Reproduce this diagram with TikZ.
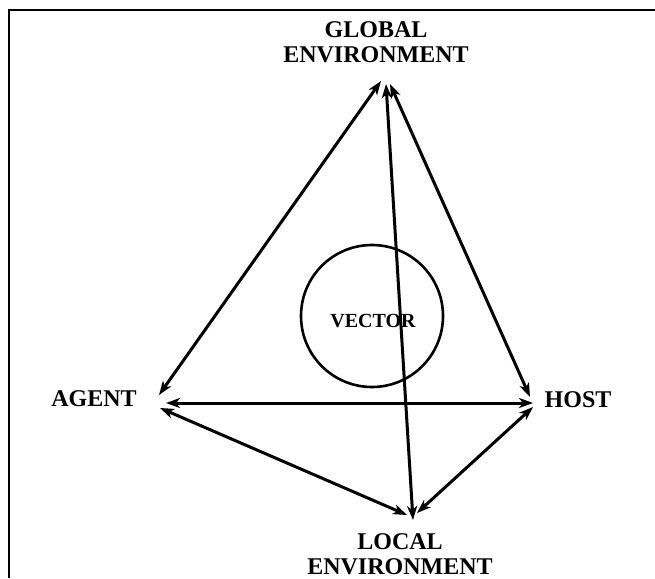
\documentclass[tikz,border=0pt]{standalone}
\usepackage{fontspec}
\setmainfont{Liberation Serif}
\usetikzlibrary{arrows.meta}

\begin{document}
\begin{tikzpicture}[x=1pt,y=-1pt,line width=3pt,
  lbl/.style={font=\fontsize{24}{25}\selectfont\bfseries,align=center,inner sep=0pt},
  link/.style={{Stealth[length=14pt,width=10pt,inset=4pt]}-{Stealth[length=14pt,width=10pt,inset=4pt]}}]
  \useasboundingbox (0,0) rectangle (655,578);
  % frame (top and left only)
  \draw[line width=2pt] (655,10) -- (9,10) -- (9,578);
  % labels
  \node[lbl] (glob) at (376,42) {GLOBAL\\ENVIRONMENT};
  \node[lbl] (loc) at (400,554) {LOCAL\\ENVIRONMENT};
  \node[lbl] (agent) at (94,399) {AGENT};
  \node[lbl] (host) at (578,400) {HOST};
  \node[circle,draw,line width=2.6pt,minimum size=142pt] (vec) at (372,316) {};
  \node[font=\fontsize{20}{22}\selectfont\bfseries,inner sep=0pt] (veclbl) at (373,321) {VECTOR};
  % arrow ends
  \coordinate (ga) at (381,81);
  \coordinate (gl) at (386,84);
  \coordinate (gh) at (390,84);
  \coordinate (ag) at (159,395);
  \coordinate (ah) at (166,403);
  \coordinate (al) at (160,408);
  \coordinate (ha) at (533,403);
  \coordinate (hg) at (530,397);
  \coordinate (hl) at (533,407);
  \coordinate (la) at (407,515);
  \coordinate (lg) at (413,520);
  \coordinate (lh) at (417,513);
  % links
  \draw[link] (ag) -- (ga);
  \draw[link] (hg) -- (gh);
  \draw[link] (lg) -- (gl);
  \draw[link] (ah) -- (ha);
  \draw[link] (al) -- (la);
  \draw[link] (hl) -- (lh);
\end{tikzpicture}
\end{document}
